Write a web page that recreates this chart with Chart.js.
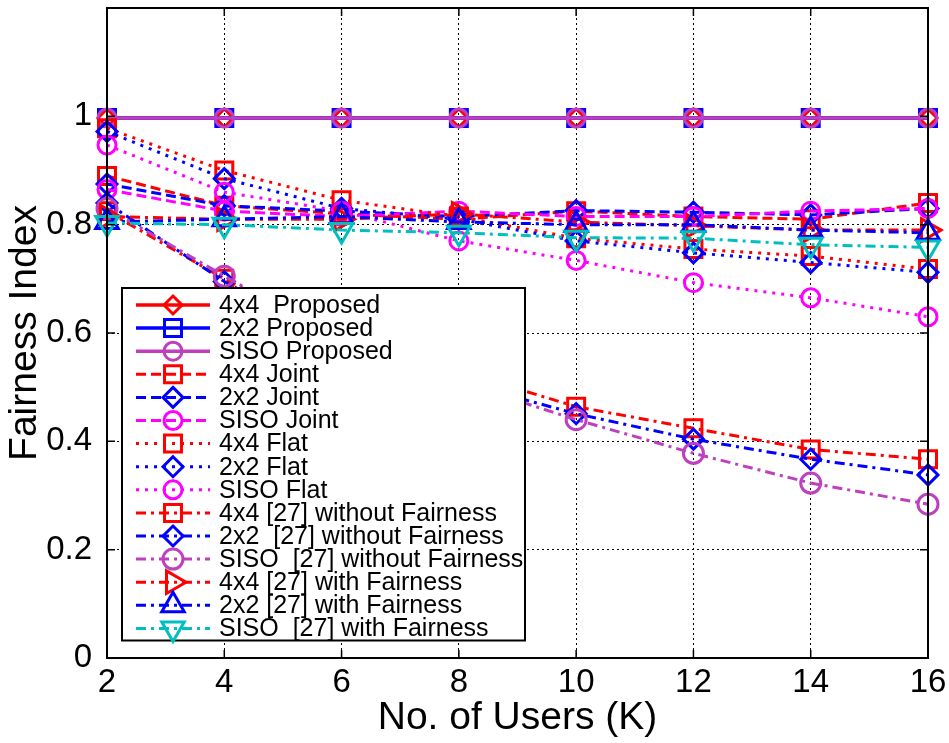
<!DOCTYPE html>
<html>
<head>
<meta charset="utf-8">
<script src="https://cdn.jsdelivr.net/npm/chart.js@4.4.1/dist/chart.umd.min.js"></script>
<style>
  html, body { margin: 0; padding: 0; background: #fff; }
  canvas { display: block; }
</style>
</head>
<body>
<canvas id="fairness-chart" width="949" height="743"></canvas>
<script>
// ---- data ----
const users = [2, 4, 6, 8, 10, 12, 14, 16];

const proposed4x4 = [0.997, 0.997, 0.997, 0.997, 0.997, 0.997, 0.997, 0.997];
const proposed2x2 = [0.997, 0.997, 0.997, 0.997, 0.997, 0.997, 0.997, 0.997];
const proposedSiso = [0.997, 0.997, 0.997, 0.997, 0.997, 0.997, 0.997, 0.997];

const joint4x4 = [0.89, 0.835, 0.82, 0.81, 0.825, 0.815, 0.81, 0.84];
const joint2x2 = [0.875, 0.835, 0.825, 0.815, 0.826, 0.823, 0.818, 0.83];
const jointSiso = [0.865, 0.825, 0.815, 0.825, 0.815, 0.815, 0.825, 0.83];

const flat4x4 = [0.978, 0.90, 0.845, 0.815, 0.775, 0.755, 0.742, 0.718];
const flat2x2 = [0.972, 0.885, 0.83, 0.81, 0.77, 0.748, 0.73, 0.712];
const flatSiso = [0.947, 0.86, 0.825, 0.77, 0.734, 0.693, 0.665, 0.63];

const noFair4x4 = [0.825, 0.70, 0.59, 0.53, 0.464, 0.424, 0.385, 0.367];
const noFair2x2 = [0.84, 0.695, 0.58, 0.51, 0.451, 0.404, 0.367, 0.338];
const noFairSiso = [0.83, 0.705, 0.585, 0.51, 0.44, 0.378, 0.323, 0.284];

const fair4x4 = [0.815, 0.81, 0.81, 0.82, 0.805, 0.798, 0.79, 0.79];
const fair2x2 = [0.805, 0.81, 0.815, 0.805, 0.80, 0.80, 0.79, 0.785];
const fairSiso = [0.803, 0.80, 0.79, 0.785, 0.776, 0.775, 0.763, 0.758];

// ---- styles ----
const RED = '#ff0000';
const BLUE = '#0000ff';
const PURPLE = '#bf40bf';
const MAGENTA = '#ff00ff';
const CYAN = '#00bfbf';

const SOLID = [];
const DASHED = [10, 5];
const DOTTED = [3, 6];
const DASHDOT = [10, 5, 3, 5];

const FONT = '"Liberation Sans", Arial, Helvetica, sans-serif';

function series(label, data, color, dash, style, size, rotation) {
    return {
        label: label,
        data: data,
        borderColor: color,
        backgroundColor: color,
        borderWidth: 3,
        borderDash: dash,
        pointStyle: style,
        pointRotation: rotation || 0,
        pointRadius: size,
        pointHoverRadius: size,
        pointBorderColor: color,
        pointBackgroundColor: 'rgba(0,0,0,0)',
        pointBorderWidth: 3,
        tension: 0,
        fill: false,
        clip: false
    };
}

const datasets = [
    series('4x4  Proposed', proposed4x4, RED, SOLID, 'rectRot', 9),
    series('2x2 Proposed', proposed2x2, BLUE, SOLID, 'rect', 12),
    series('SISO Proposed', proposedSiso, PURPLE, SOLID, 'circle', 9),
    series('4x4 Joint', joint4x4, RED, DASHED, 'rect', 12),
    series('2x2 Joint', joint2x2, BLUE, DASHED, 'rectRot', 10),
    series('SISO Joint', jointSiso, MAGENTA, DASHED, 'circle', 9),
    series('4x4 Flat', flat4x4, RED, DOTTED, 'rect', 12),
    series('2x2 Flat', flat2x2, BLUE, DOTTED, 'rectRot', 10),
    series('SISO Flat', flatSiso, MAGENTA, DOTTED, 'circle', 9),
    series('4x4 [27] without Fairness', noFair4x4, RED, DASHDOT, 'rect', 12),
    series('2x2  [27] without Fairness', noFair2x2, BLUE, DASHDOT, 'rectRot', 10),
    series('SISO  [27] without Fairness', noFairSiso, PURPLE, DASHDOT, 'circle', 10),
    series('4x4 [27] with Fairness', fair4x4, RED, DASHDOT, 'triangle', 13, 90),
    series('2x2 [27] with Fairness', fair2x2, BLUE, DASHDOT, 'triangle', 13),
    series('SISO  [27] with Fairness', fairSiso, CYAN, DASHDOT, 'triangle', 13, 180)
];
// later series sit on top, like the original plot
datasets.forEach((d, i) => { d.order = datasets.length - i; });
datasets.slice(0, 3).forEach(d => { d.borderWidth = 3.5; });

// ---- marker drawing for the hand-made legend ----
function drawMarker(ctx, style, x, y, r, rotation) {
    const rad = (rotation || 0) * Math.PI / 180;
    ctx.beginPath();
    if (style === 'circle') {
        ctx.arc(x, y, r, 0, Math.PI * 2);
    } else if (style === 'rect') {
        const h = r * Math.SQRT1_2;
        ctx.rect(x - h, y - h, 2 * h, 2 * h);
    } else if (style === 'rectRot') {
        ctx.moveTo(x, y - r);
        ctx.lineTo(x + r, y);
        ctx.lineTo(x, y + r);
        ctx.lineTo(x - r, y);
        ctx.closePath();
    } else if (style === 'triangle') {
        let a = rad;
        ctx.moveTo(x + Math.sin(a) * r, y - Math.cos(a) * r);
        a += 2 * Math.PI / 3;
        ctx.lineTo(x + Math.sin(a) * r, y - Math.cos(a) * r);
        a += 2 * Math.PI / 3;
        ctx.lineTo(x + Math.sin(a) * r, y - Math.cos(a) * r);
        ctx.closePath();
    }
    ctx.stroke();
}

const framePlugin = {
    id: 'matlabFrame',
    afterDatasetsDraw(chart) {
        const ctx = chart.ctx;
        const area = chart.chartArea;
        const xs = chart.scales.x;
        const ys = chart.scales.y;
        ctx.save();
        ctx.strokeStyle = '#000';
        ctx.setLineDash([]);

        // inward tick marks
        ctx.lineWidth = 1.5;
        ctx.beginPath();
        ys.ticks.forEach(t => {
            const py = ys.getPixelForValue(t.value);
            ctx.moveTo(area.left, py); ctx.lineTo(area.left + 8, py);
            ctx.moveTo(area.right, py); ctx.lineTo(area.right - 8, py);
        });
        xs.ticks.forEach((t, i) => {
            const px = xs.getPixelForTick(i);
            ctx.moveTo(px, area.bottom); ctx.lineTo(px, area.bottom - 8);
            ctx.moveTo(px, area.top); ctx.lineTo(px, area.top + 8);
        });
        ctx.stroke();

        // axes box
        ctx.lineWidth = 2;
        ctx.strokeRect(area.left, area.top, area.right - area.left, area.bottom - area.top);

        // legend box
        const boxLeft = area.left + 15;
        const boxTop = area.top + 280;
        const rowH = 23.1;
        const boxW = 403;
        const boxH = rowH * datasets.length + 6;
        ctx.fillStyle = '#fff';
        ctx.fillRect(boxLeft, boxTop, boxW, boxH);
        ctx.lineWidth = 2;
        ctx.strokeRect(boxLeft, boxTop, boxW, boxH);

        ctx.font = '25px ' + FONT;
        ctx.textBaseline = 'middle';
        ctx.textAlign = 'left';
        chart.data.datasets.forEach((d, i) => {
            const cy = boxTop + 17 + i * rowH;
            ctx.strokeStyle = d.borderColor;
            ctx.lineWidth = d.borderWidth;
            ctx.setLineDash(d.borderDash);
            ctx.beginPath();
            ctx.moveTo(boxLeft + 14, cy);
            ctx.lineTo(boxLeft + 88, cy);
            ctx.stroke();
            ctx.setLineDash([]);
            ctx.lineWidth = d.pointBorderWidth;
            drawMarker(ctx, d.pointStyle, boxLeft + 51, cy, d.pointRadius, d.pointRotation);
            ctx.fillStyle = '#000';
            ctx.fillText(d.label, boxLeft + 97, cy + 1);
        });
        ctx.restore();
    }
};

new Chart(document.getElementById('fairness-chart'), {
    type: 'line',
    data: {
        labels: users,
        datasets: datasets
    },
    options: {
        responsive: false,
        animation: false,
        events: [],
        layout: {
            autoPadding: false,
            padding: { left: 6, right: 21, top: 8, bottom: 5 }
        },
        plugins: {
            legend: { display: false },
            tooltip: { enabled: false },
            title: { display: false }
        },
        scales: {
            x: {
                type: 'category',
                offset: false,
                afterFit: function(scale) {
                    scale.paddingLeft = 0;
                    scale.paddingRight = 0;
                    scale.height = 80;
                },
                grid: {
                    color: '#000',
                    lineWidth: 1,
                    drawTicks: false
                },
                border: { display: false, dash: [2, 3] },
                ticks: {
                    color: '#000',
                    padding: 8,
                    font: { family: FONT, size: 33, lineHeight: 1.0 },
                    maxRotation: 0
                },
                title: {
                    display: true,
                    text: 'No. of Users (K)',
                    color: '#000',
                    font: { family: FONT, size: 39, lineHeight: 1.0 },
                    padding: { top: 0, bottom: 0 }
                }
            },
            y: {
                min: 0,
                max: 1.2,
                afterFit: function(scale) {
                    scale.paddingTop = 0;
                    scale.paddingBottom = 0;
                    scale.width = 101;
                },
                grid: {
                    color: '#000',
                    lineWidth: 1,
                    drawTicks: false
                },
                border: { display: false, dash: [2, 3] },
                ticks: {
                    stepSize: 0.2,
                    color: '#000',
                    padding: 15,
                    font: { family: FONT, size: 33, lineHeight: 1.0 },
                    callback: function(value) {
                        const v = Math.round(value * 10) / 10;
                        if (Math.abs(v - 1.2) < 1e-6) return '';
                        if (v === 0 || v === 1) return String(v);
                        return v.toFixed(1);
                    }
                },
                title: {
                    display: true,
                    text: 'Fairness Index',
                    color: '#000',
                    font: { family: FONT, size: 39, lineHeight: 1.0 },
                    padding: { top: 0, bottom: 0 }
                }
            }
        }
    },
    plugins: [framePlugin]
});
</script>
</body>
</html>
